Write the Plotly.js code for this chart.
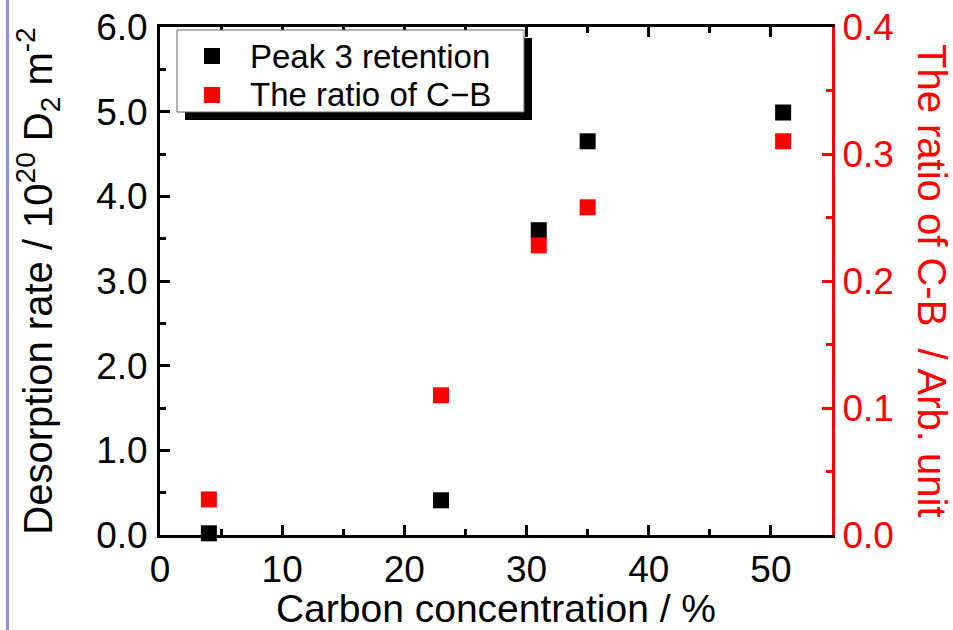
<!DOCTYPE html>
<html><head><meta charset="utf-8">
<script src="https://cdn.plot.ly/plotly-3.0.1.min.js"></script>
<style>html,body{margin:0;padding:0;background:#fff;}#wrap{position:relative;width:953px;height:630px;}#bar{position:absolute;left:6px;top:0;width:3px;height:630px;background:#8f8fe8;}#chart{position:absolute;left:0;top:0;width:953px;height:630px;}</style>
</head><body><div id="wrap"><div id="chart"></div><div id="bar"></div></div>
<script>
const carbon = [4, 23, 31, 35, 51];
const peak3Retention = [0.02, 0.41, 3.60, 4.65, 4.99];
const ratioCB = [0.028, 0.110, 0.228, 0.258, 0.310];
const seriesNames = ['Peak 3 retention', 'The ratio of C−B'];
const seriesColors = ['#000000', '#ff0000'];
const xTitle = 'Carbon concentration / %';
const yTitle = 'Desorption rate / 10<sup>20</sup> D<sub>2</sub> m<sup>-2</sup>';
const y2Title = 'The ratio of C-B  / Arb. unit';

const FONT = 'Liberation Sans, Arial, sans-serif';
const W = 953, H = 630, ML = 160, MR = 121, MT = 27, MB = 95;
const PW = W - ML - MR, PH = H - MT - MB;
const px = v => (v - ML) / PW;           // pixel -> paper x
const py = v => (H - MB - v) / PH;       // pixel -> paper y

const tickFont = {family: FONT, size: 37, color: '#000'};
const traces = [
  {x: carbon, y: peak3Retention, type: 'scatter', mode: 'markers', name: seriesNames[0],
   marker: {symbol: 'square', size: 16, color: seriesColors[0]}, cliponaxis: false, showlegend: false},
  {x: carbon, y: ratioCB, type: 'scatter', mode: 'markers', name: seriesNames[1], yaxis: 'y2',
   marker: {symbol: 'square', size: 16, color: seriesColors[1]}, cliponaxis: false, showlegend: false},
  // empty helper traces so the minor-tick axes are drawn
  {x: [null], y: [null], xaxis: 'x2', yaxis: 'y', type: 'scatter', mode: 'markers', showlegend: false, hoverinfo: 'skip'},
  {x: [null], y: [null], xaxis: 'x', yaxis: 'y3', type: 'scatter', mode: 'markers', showlegend: false, hoverinfo: 'skip'},
  {x: [null], y: [null], xaxis: 'x', yaxis: 'y4', type: 'scatter', mode: 'markers', showlegend: false, hoverinfo: 'skip'}
];
const minorCommon = {ticks: 'inside', ticklen: 6, tickwidth: 3, showticklabels: false, showline: false,
                     showgrid: false, zeroline: false};
const legendFont = {family: FONT, size: 33, color: '#000'};
const layout = {
  width: W, height: H,
  margin: {l: ML, r: MR, t: MT, b: MB},
  paper_bgcolor: '#fff', plot_bgcolor: '#fff',
  showlegend: false,
  xaxis: {range: [0, 55], tick0: 0, dtick: 10, ticks: 'inside', ticklen: 10, tickwidth: 3, tickcolor: '#000',
          showline: true, linewidth: 3, linecolor: '#000', mirror: 'ticks', showgrid: false, zeroline: false,
          tickfont: tickFont,
          title: {text: xTitle, font: {family: FONT, size: 39, color: '#000'}, standoff: 7}},
  xaxis2: Object.assign({overlaying: 'x', anchor: 'y', range: [0, 55], tick0: 0, dtick: 5, tickcolor: '#000', mirror: 'ticks'}, minorCommon),
  yaxis: {range: [0, 6], tick0: 0, dtick: 1, tickformat: '.1f', ticks: 'inside', ticklen: 10, tickwidth: 3, tickcolor: '#000',
          showline: true, linewidth: 3, linecolor: '#000', showgrid: false, zeroline: false,
          tickfont: tickFont, ticklabelstandoff: 2,
          title: {text: yTitle, font: {family: FONT, size: 40, color: '#000'}, standoff: 32}},
  yaxis3: Object.assign({overlaying: 'y', anchor: 'x', side: 'left', range: [0, 6], tick0: 0, dtick: 0.5, tickcolor: '#000'}, minorCommon),
  yaxis2: {overlaying: 'y', side: 'right', range: [0, 0.4], tick0: 0, dtick: 0.1, tickformat: '.1f',
           ticks: 'inside', ticklen: 10, tickwidth: 3, tickcolor: '#ff0000',
           showline: true, linewidth: 3, linecolor: '#ff0000', showgrid: false, zeroline: false,
           tickfont: {family: FONT, size: 37, color: '#ff0000'}},
  yaxis4: Object.assign({overlaying: 'y', anchor: 'x', side: 'right', range: [0, 0.4], tick0: 0, dtick: 0.05, tickcolor: '#ff0000'}, minorCommon),
  annotations: [
    {text: y2Title, xref: 'paper', yref: 'paper', x: 1, y: 0.5,
     xshift: 100, textangle: 90, showarrow: false, xanchor: 'center', yanchor: 'middle',
     font: {family: FONT, size: 40, color: '#ff0000'}},
    {text: seriesNames[0], xref: 'paper', yref: 'paper', x: px(248), y: py(56), xanchor: 'left', yanchor: 'middle',
     showarrow: false, font: legendFont},
    {text: seriesNames[1], xref: 'paper', yref: 'paper', x: px(248), y: py(95), xanchor: 'left', yanchor: 'middle',
     showarrow: false, font: legendFont}
  ],
  shapes: [
    {type: 'rect', xref: 'paper', yref: 'paper', x0: px(185), x1: px(532), y0: py(120), y1: py(38),
     fillcolor: '#000', line: {width: 0}, layer: 'above'},
    {type: 'rect', xref: 'paper', yref: 'paper', x0: px(177), x1: px(524), y0: py(112), y1: py(30),
     fillcolor: '#fff', line: {width: 1, color: '#666'}, layer: 'above'},
    {type: 'rect', xref: 'paper', yref: 'paper', x0: px(204), x1: px(220), y0: py(64), y1: py(48),
     fillcolor: seriesColors[0], line: {width: 0}, layer: 'above'},
    {type: 'rect', xref: 'paper', yref: 'paper', x0: px(204), x1: px(220), y0: py(103), y1: py(87),
     fillcolor: seriesColors[1], line: {width: 0}, layer: 'above'}
  ]
};
Plotly.newPlot('chart', traces, layout, {displayModeBar: false, staticPlot: true});
</script></body></html>
